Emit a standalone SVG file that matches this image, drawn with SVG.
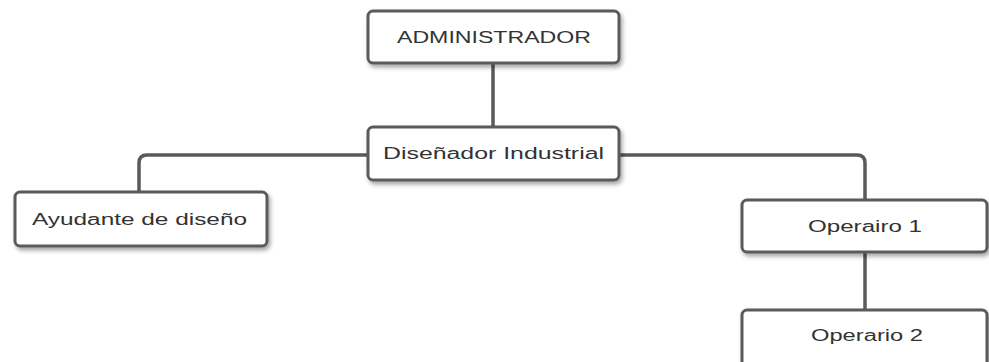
<svg xmlns="http://www.w3.org/2000/svg" width="989" height="362" viewBox="0 0 989 362">
  <defs>
    <filter id="shadow" x="-10%" y="-20%" width="130%" height="160%">
      <feDropShadow dx="2" dy="3" stdDeviation="2" flood-color="#000" flood-opacity="0.35"/>
    </filter>
    <style>
      .box { fill: #ffffff; stroke: #5a5a5a; stroke-width: 3; filter: url(#shadow); }
      .link { fill: none; stroke: #5a5a5a; stroke-width: 3.5; }
      .label { font-family: "Liberation Sans", Arial, sans-serif; font-size: 16px; fill: #333333; }
    </style>
  </defs>
  <rect width="989" height="362" fill="#ffffff"/>

  <g id="connectors">
    <path class="link" d="M493 63 V127"/>
    <path class="link" d="M368 155 H147 Q139 155 139 163 V192"/>
    <path class="link" d="M619 155 H857 Q865 155 865 163 V200"/>
    <path class="link" d="M865 252 V310"/>
  </g>

  <g id="administrador">
    <rect class="box" x="368" y="11" width="251" height="52" rx="5"/>
    <text class="label" x="397" y="43" textLength="194" lengthAdjust="spacingAndGlyphs">ADMINISTRADOR</text>
  </g>

  <g id="disenador-industrial">
    <rect class="box" x="368" y="127" width="251" height="53" rx="5"/>
    <text class="label" x="383" y="159" textLength="221" lengthAdjust="spacingAndGlyphs">Diseñador Industrial</text>
  </g>

  <g id="ayudante-diseno">
    <rect class="box" x="15" y="192" width="252" height="54" rx="5"/>
    <text class="label" x="32" y="225" textLength="215" lengthAdjust="spacingAndGlyphs">Ayudante de diseño</text>
  </g>

  <g id="operario-1">
    <rect class="box" x="742" y="200" width="245" height="52" rx="5"/>
    <text class="label" x="808" y="232" textLength="114" lengthAdjust="spacingAndGlyphs">Operairo 1</text>
  </g>

  <g id="operario-2">
    <rect class="box" x="742" y="310" width="245" height="60" rx="5"/>
    <text class="label" x="811" y="341" textLength="112" lengthAdjust="spacingAndGlyphs">Operario 2</text>
  </g>
</svg>
